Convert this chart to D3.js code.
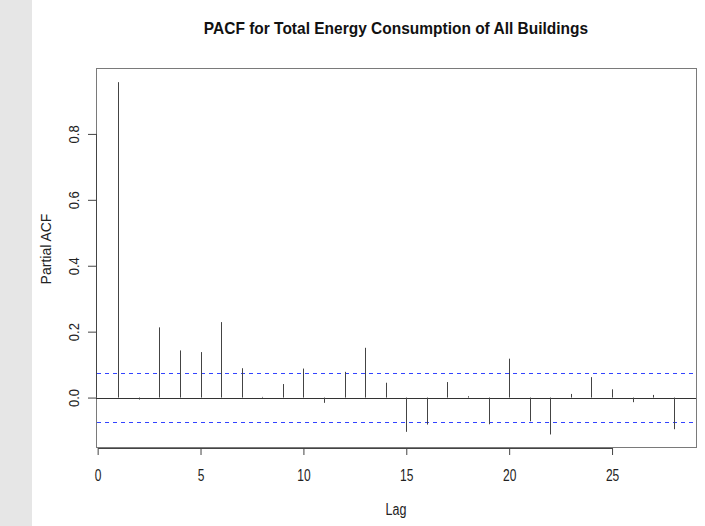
<!DOCTYPE html>
<html>
<head>
<meta charset="utf-8">
<script src="https://cdn.jsdelivr.net/npm/d3@7"></script>
<style>
  body { margin: 0; background: #fff; }
  svg { display: block; font-family: "Liberation Sans", Arial, sans-serif; }
</style>
</head>
<body>
<script>
// partial autocorrelation per lag
var lags = d3.range(1, 29);
var pacf = [0.957, -0.006, 0.213, 0.143, 0.138, 0.229, 0.089, 0.002, 0.041, 0.088,
            -0.016, 0.078, 0.151, 0.045, -0.104, -0.082, 0.047, 0.004, -0.081, 0.118,
            -0.072, -0.112, 0.011, 0.062, 0.025, -0.014, 0.008, -0.096];
var ciLimit = 0.0735;
var xTicks = [0, 5, 10, 15, 20, 25];
var yTicks = [0, 0.2, 0.4, 0.6, 0.8];
var yTickLabels = ["0.0", "0.2", "0.4", "0.6", "0.8"];

var W = 705, H = 526;
var box = { left: 96, right: 696, top: 68, bottom: 447 };

var svg = d3.select("body").append("svg")
  .attr("width", W)
  .attr("height", H);

// grey strip on the left edge
svg.append("rect")
  .attr("x", 0).attr("y", 0)
  .attr("width", 32).attr("height", H)
  .attr("fill", "#e6e6e6");

var x = d3.scaleLinear().domain([-0.08, 29.08]).range([box.left, box.right]);
var y = d3.scaleLinear().domain([-0.15, 1.0]).range([box.bottom, box.top]);

// plot box
svg.append("rect")
  .attr("x", box.left + 0.5).attr("y", box.top + 0.5)
  .attr("width", box.right - box.left).attr("height", box.bottom - box.top)
  .attr("fill", "none")
  .attr("stroke", "#7a7a7a");

// zero line
svg.append("line")
  .attr("x1", box.left).attr("x2", box.right)
  .attr("y1", Math.round(y(0)) + 0.5).attr("y2", Math.round(y(0)) + 0.5)
  .attr("stroke", "#333");

// confidence limits (dashed blue)
svg.selectAll("line.ci")
  .data([ciLimit, -ciLimit])
  .enter().append("line")
  .attr("class", "ci")
  .attr("x1", box.left + 1).attr("x2", box.right)
  .attr("y1", function(d) { return Math.round(y(d)) + 0.5; })
  .attr("y2", function(d) { return Math.round(y(d)) + 0.5; })
  .attr("stroke", "#3344ff")
  .attr("stroke-dasharray", "4 4");

// spikes
svg.selectAll("line.spike")
  .data(lags)
  .enter().append("line")
  .attr("class", "spike")
  .attr("x1", function(d) { return Math.round(x(d)) + 0.5; })
  .attr("x2", function(d) { return Math.round(x(d)) + 0.5; })
  .attr("y1", y(0))
  .attr("y2", function(d, i) { return y(pacf[i]); })
  .attr("stroke", "#444");

// x axis
var gx = svg.append("g")
  .attr("transform", "translate(0," + (box.bottom + 1) + ")")
  .call(d3.axisBottom(x).tickValues(xTicks).tickSize(7));
gx.select(".domain").attr("stroke", "#444").attr("d", "M" + (x(0) + 0.5) + ",0.5H" + (x(25) + 0.5));
gx.selectAll(".tick line").attr("stroke", "#444");
gx.selectAll("text")
  .attr("font-size", 12).attr("fill", "#222").attr("font-family", "Liberation Sans, Arial, sans-serif")
  .attr("y", null).attr("dy", null)
  .attr("transform", "translate(0,33) scale(1,1.3)");

// y axis
var gy = svg.append("g")
  .attr("transform", "translate(" + box.left + ",0)")
  .call(d3.axisLeft(y).tickValues(yTicks).tickSize(8)
    .tickFormat(function(d, i) { return yTickLabels[i]; }));
gy.select(".domain").attr("stroke", "#444").attr("d", "M0.5," + y(0) + "V" + y(0.8));
gy.selectAll(".tick line").attr("stroke", "#444");
gy.selectAll("text")
  .attr("font-size", 13).attr("fill", "#222").attr("font-family", "Liberation Sans, Arial, sans-serif")
  .attr("x", null).attr("dy", null)
  .attr("text-anchor", "middle")
  .attr("transform", "translate(-17,0) rotate(-90) scale(1,1.15)");

// titles
svg.append("text")
  .attr("transform", "translate(" + (box.left + box.right) / 2 + ",34) scale(1,1.1)")
  .attr("text-anchor", "middle")
  .attr("font-size", 15.5).attr("font-weight", "bold").attr("fill", "#111")
  .text("PACF for Total Energy Consumption of All Buildings");

svg.append("text")
  .attr("transform", "translate(" + (box.left + box.right) / 2 + ",515) scale(1,1.3)")
  .attr("text-anchor", "middle")
  .attr("font-size", 12.5).attr("fill", "#222")
  .text("Lag");

svg.append("text")
  .attr("transform", "translate(51,249) rotate(-90)")
  .attr("text-anchor", "middle")
  .attr("font-size", 14).attr("fill", "#222")
  .text("Partial ACF");
</script>
</body>
</html>
